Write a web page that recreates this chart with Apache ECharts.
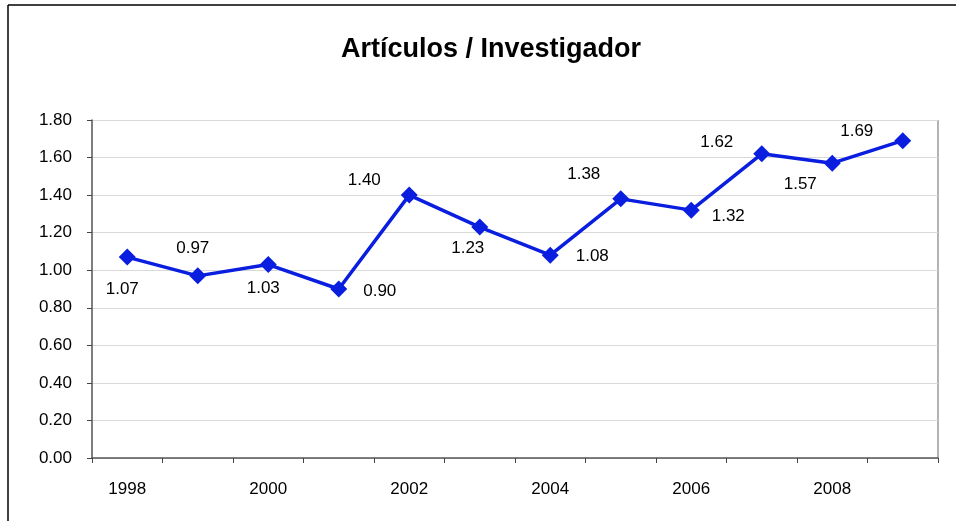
<!DOCTYPE html>
<html>
<head>
<meta charset="utf-8">
<script src="https://cdn.jsdelivr.net/npm/echarts@6/dist/echarts.min.js"></script>
<style>
  html, body { margin: 0; padding: 0; background: #fff; }
  #chart { width: 956px; height: 521px; }
</style>
</head>
<body>
<div id="chart"></div>
<script>
// datos
const years = ['1998', '1999', '2000', '2001', '2002', '2003', '2004', '2005', '2006', '2007', '2008', '2009'];
const articulos = [1.07, 0.97, 1.03, 0.90, 1.40, 1.23, 1.08, 1.38, 1.32, 1.62, 1.57, 1.69];

// desplazamiento de cada etiqueta respecto al punto
const labelOffsets = [
  [-5, 32], [-5, -28], [-5, 24], [41, 2], [-45, -15], [-12, 21],
  [42, 1], [-37, -25], [37, 6], [-45, -11], [-32, 21], [-46, -9]
];

const chart = echarts.init(document.getElementById('chart'));
const font = 'Liberation Sans, Arial, sans-serif';

const option = {
  animation: false,
  backgroundColor: '#fff',
  title: {
    text: 'Artículos / Investigador',
    left: 486,
    top: 31,
    textAlign: 'center',
    textStyle: { fontFamily: font, fontSize: 27, fontWeight: 'bold', color: '#000' }
  },
  grid: { left: 92, right: 18, top: 120, bottom: 63 },
  xAxis: {
    type: 'category',
    data: years,
    boundaryGap: true,
    axisLine: { lineStyle: { color: '#555', width: 1.5 } },
    axisTick: { show: true, length: 5, interval: 0, lineStyle: { color: '#444' } },
    axisLabel: { interval: 1, margin: 23, fontFamily: font, fontSize: 17, color: '#000' },
    splitLine: { show: false }
  },
  yAxis: {
    type: 'value',
    min: 0,
    max: 1.8,
    interval: 0.2,
    axisLine: { show: true, lineStyle: { color: '#555', width: 1.5 } },
    axisTick: { show: true, length: 5, lineStyle: { color: '#444' } },
    axisLabel: {
      margin: 20,
      fontFamily: font,
      fontSize: 17,
      color: '#000',
      formatter: v => v.toFixed(2)
    },
    splitLine: { show: true, lineStyle: { color: '#d9d9d9', width: 1 } }
  },
  graphic: [
    { type: 'line', shape: { x1: 8, y1: 5, x2: 956, y2: 5 }, style: { stroke: '#000', lineWidth: 1.5 } },
    { type: 'line', shape: { x1: 8, y1: 5, x2: 8, y2: 521 }, style: { stroke: '#000', lineWidth: 1.5 } },
    { type: 'line', shape: { x1: 938, y1: 120, x2: 938, y2: 458 }, style: { stroke: '#999', lineWidth: 1.5 } }
  ],
  series: [{
    type: 'line',
    data: articulos.map((v, i) => ({
      value: v,
      label: { offset: labelOffsets[i] }
    })),
    symbol: 'diamond',
    symbolSize: 17,
    lineStyle: { color: '#0a1ee0', width: 3.5 },
    itemStyle: { color: '#0a1ee0' },
    label: {
      show: true,
      position: 'inside',
      fontFamily: font,
      fontSize: 17,
      color: '#000',
      formatter: p => p.value.toFixed(2)
    }
  }]
};

chart.setOption(option);
</script>
</body>
</html>
